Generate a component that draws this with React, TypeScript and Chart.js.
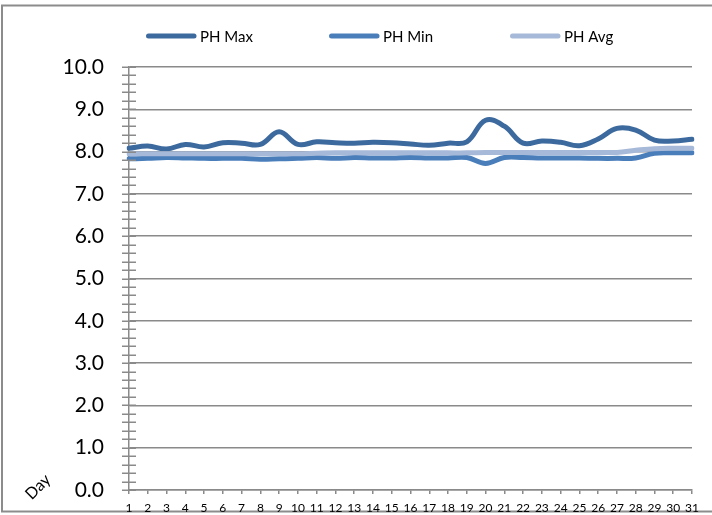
import React, { useEffect, useRef } from 'react';
import { Chart, registerables } from 'chart.js';

Chart.register(...registerables);

const days = ['1','2','3','4','5','6','7','8','9','10','11','12','13','14','15','16','17','18','19','20','21','22','23','24','25','26','27','28','29','30','31'];
const phMax = [8.08,8.13,8.06,8.17,8.11,8.21,8.20,8.17,8.47,8.17,8.23,8.21,8.20,8.22,8.21,8.18,8.15,8.20,8.23,8.74,8.60,8.20,8.25,8.22,8.14,8.30,8.55,8.51,8.27,8.25,8.29];
const phMin = [7.83,7.84,7.86,7.85,7.84,7.84,7.84,7.82,7.83,7.84,7.86,7.84,7.86,7.85,7.85,7.86,7.85,7.85,7.86,7.72,7.86,7.86,7.85,7.85,7.85,7.84,7.84,7.85,7.96,7.97,7.97];
const phAvg = [7.95,7.95,7.95,7.95,7.95,7.95,7.95,7.95,7.95,7.95,7.96,7.97,7.97,7.97,7.97,7.97,7.97,7.97,7.97,7.98,7.98,7.98,7.98,7.98,7.98,7.98,7.98,8.03,8.07,8.08,8.08];
const seriesNames = ['PH Max', 'PH Min', 'PH Avg'];
const seriesColors = ['#3D6A9E', '#4A7EBB', '#A7B9D8'];
const xTitle = 'Day';

const GRID = '#8A8A8A';
const FONT = 'Lato, "Open Sans", sans-serif';

const isInt = (v: number) => Math.abs(v - Math.round(v)) < 1e-6;

const decorPlugin = {
  id: 'decor',
  beforeDraw(chart: any) {
    const ctx = chart.ctx;
    ctx.save();
    ctx.fillStyle = '#ffffff';
    ctx.fillRect(0, 0, chart.width, chart.height);
    ctx.strokeStyle = '#8C8C8C';
    ctx.lineWidth = 2;
    ctx.strokeRect(2, 5.5, chart.width + 20, 506);
    ctx.restore();
  },
  afterDraw(chart: any) {
    const ctx = chart.ctx;
    const y = chart.scales.y;
    const left = chart.chartArea.left;
    ctx.save();
    // crossing tick marks on value axis
    ctx.strokeStyle = GRID;
    ctx.lineWidth = 1.5;
    y.ticks.forEach((t: any) => {
      const py = Math.round(y.getPixelForValue(t.value)) + 0.25;
      ctx.beginPath();
      ctx.moveTo(left - 7, py);
      ctx.lineTo(left + 7, py);
      ctx.stroke();
    });
    // legend
    const starts = [146, 329, 510];
    ctx.font = '15px ' + FONT;
    ctx.textBaseline = 'middle';
    ctx.textAlign = 'left';
    chart.data.datasets.forEach((ds: any, i: number) => {
      const x0 = starts[i];
      ctx.strokeStyle = ds.borderColor;
      ctx.lineWidth = 5;
      ctx.lineCap = 'round';
      ctx.beginPath();
      ctx.moveTo(x0 + 2.5, 36);
      ctx.lineTo(x0 + 48, 36);
      ctx.stroke();
      ctx.fillStyle = '#000';
      ctx.fillText(ds.label, x0 + 54, 37);
    });
    // rotated axis title
    ctx.translate(38, 487);
    ctx.rotate(-Math.PI / 4);
    ctx.font = '16px ' + FONT;
    ctx.textAlign = 'center';
    ctx.fillStyle = '#000';
    ctx.fillText(xTitle, 0, 0);
    ctx.restore();
  },
};

export default function App() {
  const ref = useRef<HTMLCanvasElement>(null);
  useEffect(() => {
    document.body.style.margin = '0';
    const chart = new Chart(ref.current as HTMLCanvasElement, {
      type: 'line',
      data: {
        labels: days,
        datasets: [
          { label: seriesNames[0], data: phMax, borderColor: seriesColors[0], backgroundColor: seriesColors[0], order: 3 },
          { label: seriesNames[1], data: phMin, borderColor: seriesColors[1], backgroundColor: seriesColors[1], order: 2 },
          { label: seriesNames[2], data: phAvg, borderColor: seriesColors[2], backgroundColor: seriesColors[2], order: 1 },
        ],
      },
      options: {
        responsive: false,
        animation: false,
        layout: { padding: { top: 67, right: 20, left: 0, bottom: 0 } },
        plugins: { legend: { display: false }, tooltip: { enabled: false } },
        elements: {
          point: { radius: 0, hoverRadius: 0 },
          line: { tension: 0.4, borderWidth: 5, borderCapStyle: 'round', borderJoinStyle: 'round', fill: false },
        },
        scales: {
          x: {
            type: 'category',
            offset: false,
            grid: { drawOnChartArea: false, drawTicks: true, tickLength: 4, tickColor: GRID, lineWidth: 1.5 },
            border: { display: true, color: GRID, width: 1.5 },
            ticks: { font: { family: FONT, size: 12 }, color: '#000', padding: 7, maxRotation: 0, autoSkip: false },
            afterFit: (s: any) => { s.height = 25; s.paddingLeft = 0; s.paddingRight = 0; },
          },
          y: {
            min: 0,
            max: 10,
            ticks: {
              stepSize: 0.2,
              autoSkip: false,
              padding: 25,
              font: { family: FONT, size: 21 },
              color: '#000',
              callback: (v: any) => (isInt(Number(v)) ? Number(v).toFixed(1) : ''),
            },
            grid: {
              drawTicks: false,
              lineWidth: 1.5,
              color: (c: any) => (c.tick && isInt(c.tick.value) ? GRID : 'rgba(0,0,0,0)'),
            },
            border: { display: true, color: GRID, width: 1.5 },
            afterFit: (s: any) => { s.width = 129; s.paddingTop = 0; s.paddingBottom = 0; },
          },
        },
      },
      plugins: [decorPlugin],
    } as any);
    return () => chart.destroy();
  }, []);
  return (
    <div style={{ position: 'absolute', left: 0, top: 0, width: 712, height: 515 }}>
      <canvas ref={ref} width={712} height={515} />
    </div>
  );
}
